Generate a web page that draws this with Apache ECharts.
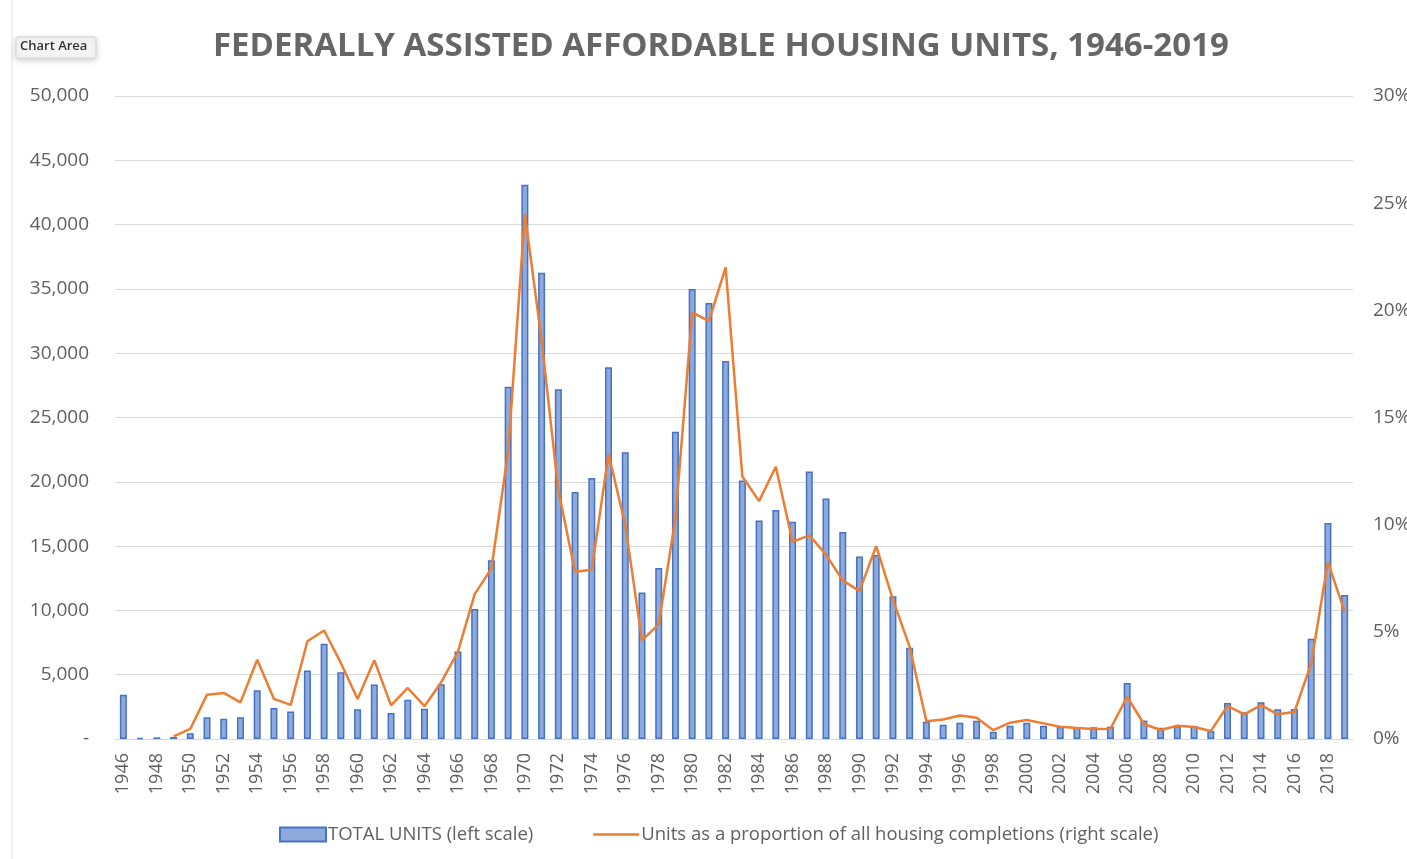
<!DOCTYPE html>
<html>
<head>
<meta charset="utf-8">
<title>Federally assisted affordable housing units</title>
<script src="https://cdn.jsdelivr.net/npm/echarts@6/dist/echarts.min.js"></script>
<style>
    html, body { margin: 0; padding: 0; background: #fff; }
    #chart { width: 1407px; height: 859px; }
</style>
</head>
<body>
<div id="chart"></div>
<script>
// years on the category axis
var years = ['1946','1947','1948','1949','1950','1951','1952','1953','1954','1955',
    '1956','1957','1958','1959','1960','1961','1962','1963','1964','1965',
    '1966','1967','1968','1969','1970','1971','1972','1973','1974','1975',
    '1976','1977','1978','1979','1980','1981','1982','1983','1984','1985',
    '1986','1987','1988','1989','1990','1991','1992','1993','1994','1995',
    '1996','1997','1998','1999','2000','2001','2002','2003','2004','2005',
    '2006','2007','2008','2009','2010','2011','2012','2013','2014','2015',
    '2016','2017','2018','2019'];

// total units (left scale)
var totalUnits = [3450, 80, 130, 150, 440, 1690, 1580, 1690, 3790, 2420,
    2130, 5320, 7400, 5190, 2310, 4230, 2030, 3060, 2360, 4260,
    6800, 10100, 13900, 27400, 43100, 36250, 27200, 19200, 20300, 28900,
    22300, 11400, 13300, 23900, 35000, 33900, 29400, 20100, 17000, 17800,
    16900, 20800, 18700, 16100, 14200, 14300, 11100, 7100, 1350, 1100,
    1270, 1420, 570, 1040, 1270, 1040, 960, 910, 910, 960,
    4350, 1430, 880, 1010, 1010, 620, 2790, 2080, 2860, 2310,
    2340, 7790, 16800, 11200];

// units as % of all housing completions (right scale)
var shareOfCompletions = [null, null, null, 0.12, 0.47, 2.07, 2.15, 1.71, 3.7, 1.87,
    1.59, 4.56, 5.06, 3.55, 1.87, 3.68, 1.57, 2.38, 1.53, 2.65,
    4.08, 6.76, 7.95, 13.4, 24.5, 18.6, 11.6, 7.8, 7.9, 13.3,
    10.0, 4.6, 5.35, 10.3, 19.9, 19.5, 22.0, 12.25, 11.1, 12.7,
    9.2, 9.5, 8.6, 7.4, 6.9, 9.0, 6.5, 4.3, 0.83, 0.91,
    1.1, 0.99, 0.41, 0.76, 0.89, 0.73, 0.57, 0.51, 0.47, 0.48,
    1.97, 0.7, 0.42, 0.62, 0.56, 0.37, 1.54, 1.15, 1.58, 1.15,
    1.26, 3.52, 8.26, 5.93];

var FONT = '"Open Sans", "DejaVu Sans", sans-serif';
var GREY = '#5f5f5f';

var chart = echarts.init(document.getElementById('chart'));

var option = {
    animation: false,
    backgroundColor: '#fff',
    textStyle: { fontFamily: FONT },
    title: {
        text: 'FEDERALLY ASSISTED AFFORDABLE HOUSING UNITS, 1946-2019',
        left: 208,
        top: 25,
        textStyle: { fontFamily: FONT, fontSize: 33, fontWeight: 'bold', color: '#666' }
    },
    // excel "Chart Area" tooltip and the frame edge
    graphic: [
        { type: 'line', shape: { x1: 12, y1: 0, x2: 12, y2: 859 }, style: { stroke: '#e2e2e2', lineWidth: 1 } },
        {
            type: 'rect', shape: { x: 16, y: 37, width: 80, height: 21, r: 2 },
            style: { fill: '#f5f5f5', stroke: '#d4d4d4', lineWidth: 1, shadowBlur: 6, shadowColor: 'rgba(0,0,0,0.18)', shadowOffsetY: 2 }
        },
        {
            type: 'text', left: 20, top: 40,
            style: { text: 'Chart Area', font: '600 13px ' + FONT, fill: '#333' }
        }
    ],
    legend: {
        top: 820,
        left: 274,
        itemGap: 60,
        itemWidth: 46,
        itemHeight: 14,
        textStyle: { fontFamily: FONT, fontSize: 18.5, color: GREY, padding: [0, 0, 0, -3] },
        data: [
            { name: 'TOTAL UNITS (left scale)', icon: 'rect' },
            { name: 'Units as a proportion of all housing completions (right scale)', icon: 'path://M0,0 L46,0 L46,2.5 L0,2.5 Z' }
        ]
    },
    grid: { left: 115, right: 54, top: 96, bottom: 120, outerBoundsMode: 'none' },
    xAxis: {
        type: 'category',
        data: years,
        axisTick: { show: false },
        axisLine: { lineStyle: { color: '#d9d9d9' } },
        axisLabel: {
            rotate: 90,
            interval: 1,
            margin: 14,
            fontFamily: FONT,
            fontSize: 18,
            color: GREY
        }
    },
    yAxis: [
        {
            type: 'value',
            min: 0,
            max: 50000,
            interval: 5000,
            axisLine: { show: false },
            axisTick: { show: false },
            splitLine: { lineStyle: { color: '#d9d9d9', width: 1.2 } },
            axisLabel: {
                margin: 26,
                fontFamily: FONT,
                fontSize: 19,
                color: GREY,
                formatter: function (v) {
                    return v === 0 ? '-' : v.toLocaleString('en-US');
                }
            }
        },
        {
            type: 'value',
            min: 0,
            max: 30,
            interval: 5,
            axisLine: { show: false },
            axisTick: { show: false },
            splitLine: { show: false },
            axisLabel: {
                margin: 20,
                fontFamily: FONT,
                fontSize: 19,
                color: GREY,
                formatter: '{value}%'
            }
        }
    ],
    series: [
        {
            name: 'TOTAL UNITS (left scale)',
            type: 'bar',
            yAxisIndex: 0,
            barWidth: 7,
            data: totalUnits,
            itemStyle: { color: '#8eaadc', borderColor: '#4472c4', borderWidth: 1.5 }
        },
        {
            name: 'Units as a proportion of all housing completions (right scale)',
            type: 'line',
            yAxisIndex: 1,
            data: shareOfCompletions,
            symbol: 'none',
            lineStyle: { color: '#ed7d31', width: 2.5 },
            itemStyle: { color: '#ed7d31' }
        }
    ]
};

chart.setOption(option);
</script>
</body>
</html>
